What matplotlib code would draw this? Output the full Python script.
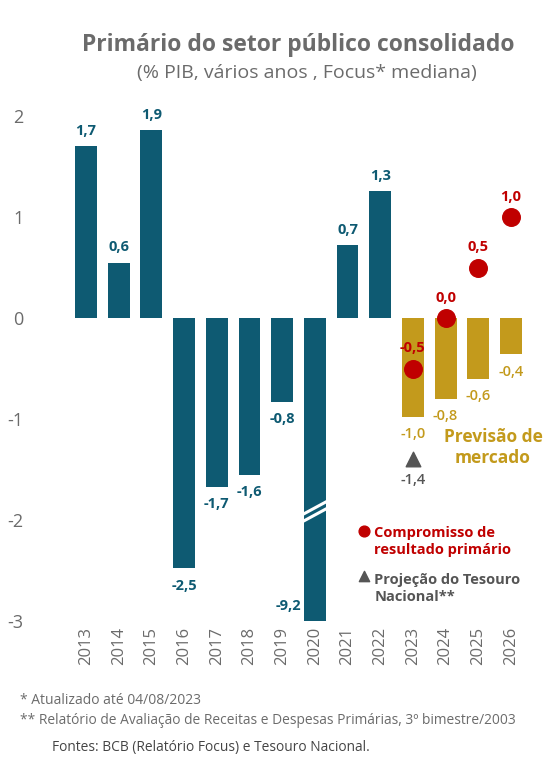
import numpy as np
import matplotlib
matplotlib.use("Agg")
import matplotlib.pyplot as plt

plt.rcParams['font.family'] = ['Open Sans', 'DejaVu Sans']

anos = ['2013', '2014', '2015', '2016', '2017', '2018', '2019', '2020',
        '2021', '2022', '2023', '2024', '2025', '2026']
primario = [1.7, 0.55, 1.86, -2.48, -1.67, -1.55, -0.83, -9.2,
            0.72, 1.26, -0.98, -0.8, -0.6, -0.36]
rotulos = ['1,7', '0,6', '1,9', '-2,5', '-1,7', '-1,6', '-0,8', '-9,2',
           '0,7', '1,3', '-1,0', '-0,8', '-0,6', '-0,4']
n_hist = 10  # 2013-2022 realizados, resto Focus

comp_anos = [10, 11, 12, 13]
compromisso = [-0.5, 0.0, 0.5, 1.0]
comp_rot = ['-0,5', '0,0', '0,5', '1,0']
tesouro = -1.4
tesouro_rot = '-1,4'

TEAL = '#0e5a72'
GOLD = '#c39a1c'
RED = '#c00000'
GRAY = '#6b6b6b'
YMIN = -3.0

fig = plt.figure(figsize=(5.6, 7.68), dpi=100)
ax = fig.add_axes([66.4 / 560, 1 - 621 / 768, (530.6 - 66.4) / 560, (621 - 106) / 768])

x = np.arange(len(anos))
cores = [TEAL] * n_hist + [GOLD] * (len(anos) - n_hist)
alturas = [max(v, YMIN) for v in primario]
ax.bar(x, alturas, width=0.67, color=cores, zorder=2)

# quebra na barra de 2020
i20 = anos.index('2020')
for dy in (0.0, 0.07):
    ax.plot([i20 - 0.4, i20 + 0.4], [-2.02 + dy, -1.88 + dy], color='white', lw=2.2,
            zorder=3, solid_capstyle='butt')

for i, (v, r) in enumerate(zip(primario, rotulos)):
    col = TEAL if i < n_hist else GOLD
    wt = 'bold' if i < n_hist else 'semibold'
    if v >= 0:
        ax.text(i, v + 0.08, r, ha='center', va='bottom', color=col, fontsize=10.5, fontweight=wt)
    elif v < YMIN:
        ax.text(i - 0.8, -2.85, r, ha='center', va='center', color=col, fontsize=10.5, fontweight=wt)
    else:
        ax.text(i, v - 0.1, r, ha='center', va='top', color=col, fontsize=10.5, fontweight=wt)

ax.scatter(comp_anos, compromisso, s=160, color=RED, zorder=4)
for xi, v, r in zip(comp_anos, compromisso, comp_rot):
    ax.text(xi, v + 0.13, r, ha='center', va='bottom', color=RED, fontsize=10.5, fontweight='bold', zorder=5)

ax.scatter([10], [tesouro], marker='^', s=110, color='#555555', zorder=4)
ax.text(10, tesouro - 0.13, tesouro_rot, ha='center', va='top', color='#555555', fontsize=10.5,
        fontweight='semibold')

ax.text(12.45, -1.28, 'Previsão de\nmercado', ha='center', va='center', color=GOLD,
        fontsize=12.5, fontweight='bold', linespacing=1.25)

ax.scatter([8.5], [-2.11], s=60, color=RED, zorder=4, clip_on=False)
ax.text(8.82, -2.215, 'Compromisso de\nresultado primário', ha='left', va='center', color=RED,
        fontsize=10.5, fontweight='bold', linespacing=1.3)
ax.scatter([8.5], [-2.55], marker='^', s=55, color='#555555', zorder=4, clip_on=False)
ax.text(8.82, -2.675, 'Projeção do Tesouro\nNacional**', ha='left', va='center', color='#555555',
        fontsize=10.5, fontweight='bold', linespacing=1.3)

ax.set_xlim(-0.6, 13.6)
ax.set_ylim(YMIN, 2.1)
ax.set_yticks([-3, -2, -1, 0, 1, 2])
ax.set_yticklabels(['-3', '-2', '-1', '0', '1', '2'])
ax.set_xticks(x)
ax.set_xticklabels(anos, rotation=90)
ax.tick_params(axis='y', length=0, pad=31, labelsize=13, labelcolor=GRAY)
ax.tick_params(axis='x', length=0, pad=4, labelsize=12, labelcolor=GRAY)
for s in ax.spines.values():
    s.set_visible(False)

fig.text(298 / 560, 1 - 45 / 768, 'Primário do setor público consolidado', ha='center', va='center',
         fontsize=16.5, fontweight='bold', color=GRAY)
fig.text(307 / 560, 1 - 73 / 768, '(% PIB, vários anos , Focus* mediana)', ha='center', va='center',
         fontsize=14, color=GRAY)

fig.text(20 / 560, 1 - 700 / 768, '* Atualizado até 04/08/2023', ha='left', va='center',
         fontsize=10, color=GRAY)
fig.text(20 / 560, 1 - 721 / 768,
         '** Relatório de Avaliação de Receitas e Despesas Primárias, 3º bimestre/2003',
         ha='left', va='center', fontsize=9.9, color=GRAY)
fig.text(52 / 560, 1 - 748 / 768, 'Fontes: BCB (Relatório Focus) e Tesouro Nacional.', ha='left',
         va='center', fontsize=9.9, color='#444444')

fig.savefig('out.png', dpi=100, facecolor='white')
